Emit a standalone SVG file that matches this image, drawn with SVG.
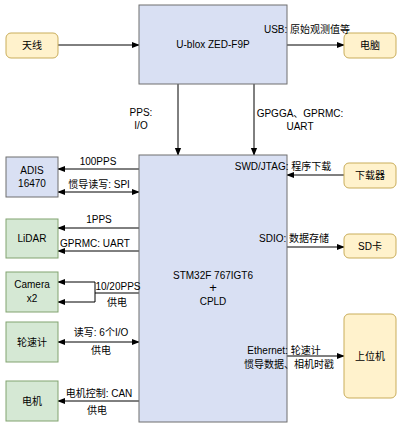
<svg xmlns="http://www.w3.org/2000/svg" width="401" height="429" viewBox="0 0 401 429">
<defs>
<marker id="ah" viewBox="0 0 10 10" refX="9" refY="5" markerWidth="8" markerHeight="8" markerUnits="userSpaceOnUse" orient="auto-start-reverse">
<path d="M0,1 L10,5 L0,9 Z" fill="#000"/>
</marker>
<style>
text{font-family:"Liberation Sans","Noto Sans CJK SC",sans-serif;font-size:10px;fill:#000}
.c{text-anchor:middle}
.e{text-anchor:end}
.blue{fill:#d9e0f3;stroke:#6f6f6f;stroke-width:1}
.green{fill:#d5e8d4;stroke:#82a370;stroke-width:1}
.yel{fill:#fff2cc;stroke:#c9ad5a;stroke-width:1}
.ln{stroke:#000;stroke-width:1;fill:none}
</style>
</defs>
<rect width="401" height="429" fill="#fff"/>
<g id="connectors">
<path class="ln" d="M58,45 H139" marker-end="url(#ah)"/>
<path class="ln" d="M287,45 H344" marker-end="url(#ah)"/>
<path class="ln" d="M178,84 V155" marker-end="url(#ah)"/>
<path class="ln" d="M254,84 V155" marker-end="url(#ah)"/>
<path class="ln" d="M139,169 H58" marker-end="url(#ah)"/>
<path class="ln" d="M139,192 H58" marker-start="url(#ah)" marker-end="url(#ah)"/>
<path class="ln" d="M139,228 H58" marker-end="url(#ah)"/>
<path class="ln" d="M139,251 H58" marker-end="url(#ah)"/>
<path class="ln" d="M139,293 H95"/>
<path class="ln" d="M95,282 V302"/>
<path class="ln" d="M95,282 H58" marker-end="url(#ah)"/>
<path class="ln" d="M95,302 H58" marker-end="url(#ah)"/>
<path class="ln" d="M139,342 H58" marker-start="url(#ah)" marker-end="url(#ah)"/>
<path class="ln" d="M139,401 H58" marker-end="url(#ah)"/>
<path class="ln" d="M344,175 H287" marker-end="url(#ah)"/>
<path class="ln" d="M287,247 H344" marker-end="url(#ah)"/>
<path class="ln" d="M287,356 H344" marker-end="url(#ah)"/>
</g>
<g id="antenna">
<rect class="yel" x="6" y="33" width="52" height="25" rx="5"/>
<text x="32" y="49" class="c">天线</text>
</g>
<g id="ublox">
<rect class="blue" x="139" y="5" width="148" height="79"/>
<text x="213" y="48" class="c">U-blox ZED-F9P</text>
</g>
<g id="pc">
<rect class="yel" x="344" y="33" width="52" height="25" rx="5"/>
<text x="370" y="49" class="c">电脑</text>
</g>
<g id="stm">
<rect class="blue" x="139" y="155" width="148" height="267"/>
<text x="213" y="279" class="c">STM32F 767IGT6</text>
<text x="213" y="292" class="c" style="font-size:13px">+</text>
<text x="213" y="305" class="c">CPLD</text>
</g>
<g id="adis">
<rect class="blue" x="6" y="157" width="52" height="40"/>
<text x="32" y="174" class="c">ADIS</text>
<text x="32" y="187" class="c">16470</text>
</g>
<g id="lidar">
<rect class="green" x="6" y="219" width="52" height="39"/>
<text x="32" y="242" class="c">LiDAR</text>
</g>
<g id="camera">
<rect class="green" x="6" y="272" width="52" height="40"/>
<text x="32" y="288" class="c">Camera</text>
<text x="32" y="302" class="c">x2</text>
</g>
<g id="odometer">
<rect class="green" x="6" y="322" width="52" height="40"/>
<text x="32" y="346" class="c">轮速计</text>
</g>
<g id="motor">
<rect class="green" x="6" y="381" width="52" height="40"/>
<text x="32" y="405" class="c">电机</text>
</g>
<g id="downloader">
<rect class="yel" x="344" y="163" width="52" height="25" rx="5"/>
<text x="370" y="179" class="c">下载器</text>
</g>
<g id="sdcard">
<rect class="yel" x="344" y="234" width="52" height="24" rx="5"/>
<text x="370" y="250" class="c">SD卡</text>
</g>
<g id="host">
<rect class="yel" x="344" y="314" width="52" height="84" rx="5"/>
<text x="370" y="360" class="c">上位机</text>
</g>
<g id="labels">
<text x="307" y="33" class="c">USB: 原始观测值等</text>
<text x="141" y="116" class="c">PPS:</text>
<text x="141" y="129" class="c">I/O</text>
<text x="300" y="117" class="c">GPGGA、GPRMC:</text>
<text x="300" y="130" class="c">UART</text>
<text x="98" y="165" class="c">100PPS</text>
<text x="99" y="188" class="c">惯导读写: SPI</text>
<text x="99" y="223" class="c">1PPS</text>
<text x="95" y="247" class="c">GPRMC: UART</text>
<text x="118" y="290" class="c">10/20PPS</text>
<text x="117" y="306" class="c">供电</text>
<text x="101" y="336" class="c">读写: 6个I/O</text>
<text x="101" y="354" class="c">供电</text>
<text x="99" y="397" class="c">电机控制: CAN</text>
<text x="97" y="414" class="c">供电</text>
<text x="283" y="170" class="c">SWD/JTAG: 程序下载</text>
<text x="294" y="242" class="c">SDIO: 数据存储</text>
<text x="284" y="354" class="c">Ethernet: 轮速计</text>
<text x="289" y="368" class="c">惯导数据、相机时戳</text>
</g>
</svg>
